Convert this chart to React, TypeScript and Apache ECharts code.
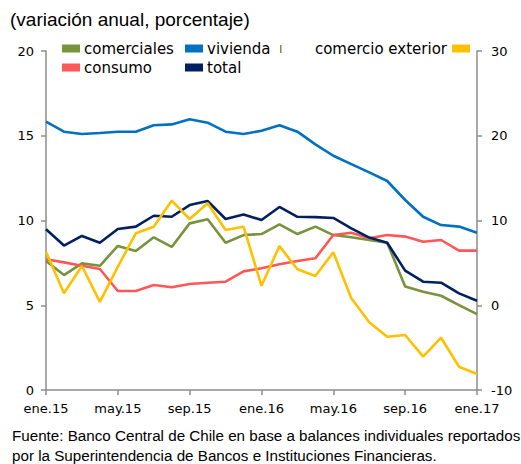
import React, { useEffect, useRef } from "react";
import * as echarts from "echarts";

const months: string[] = [
  "ene.15", "feb.15", "mar.15", "abr.15", "may.15", "jun.15", "jul.15", "ago.15", "sep.15", "oct.15", "nov.15", "dic.15",
  "ene.16", "feb.16", "mar.16", "abr.16", "may.16", "jun.16", "jul.16", "ago.16", "sep.16", "oct.16", "nov.16", "dic.16",
  "ene.17",
];

const comerciales: number[] = [7.61, 6.78, 7.47, 7.33, 8.5, 8.2, 9.01, 8.44, 9.83, 10.07, 8.69, 9.14, 9.2, 9.77, 9.2, 9.64, 9.14, 9.01, 8.85, 8.69, 6.1, 5.8, 5.56, 5.01, 4.48];
const vivienda: number[] = [15.83, 15.24, 15.1, 15.16, 15.24, 15.24, 15.62, 15.67, 15.97, 15.77, 15.24, 15.1, 15.3, 15.62, 15.24, 14.49, 13.82, 13.33, 12.84, 12.33, 11.21, 10.22, 9.73, 9.64, 9.28];
const consumo: number[] = [7.71, 7.53, 7.33, 7.14, 5.84, 5.84, 6.19, 6.06, 6.25, 6.33, 6.39, 7.0, 7.18, 7.42, 7.61, 7.77, 9.14, 9.28, 8.95, 9.14, 9.05, 8.75, 8.85, 8.22, 8.22];
const total: number[] = [9.48, 8.52, 9.09, 8.69, 9.5, 9.64, 10.28, 10.22, 10.91, 11.15, 10.09, 10.36, 10.03, 10.8, 10.22, 10.2, 10.15, 9.54, 8.99, 8.69, 7.04, 6.39, 6.33, 5.7, 5.27];
const comercioExterior: number[] = [6.32, 1.41, 4.63, 0.4, 4.55, 8.49, 9.27, 12.34, 10.18, 12.03, 8.88, 9.27, 2.3, 6.99, 4.24, 3.45, 6.25, 0.82, -2.01, -3.71, -3.51, -6.07, -3.83, -7.25, -8.11];

const leftTicks = { min: 0, max: 20, interval: 5 };
const rightTicks = { min: -10, max: 30, interval: 10 };

const titleText = "(variación anual, porcentaje)";
const footer1 = "Fuente: Banco Central de Chile en base a balances individuales reportados";
const footer2 = "por la Superintendencia de Bancos e Instituciones Financieras.";

const COLORS = {
  comerciales: "#77933C",
  vivienda: "#0070C0",
  consumo: "#FF5757",
  total: "#002060",
  comercio: "#FFC000",
};

const AXIS_COLOR = "#8c8c8c";
const LABEL_FONT = "DejaVu Sans";

export default function App() {
  const ref = useRef<HTMLDivElement>(null);

  useEffect(() => {
    if (!ref.current) return;
    const chart = echarts.init(ref.current, undefined, { renderer: "svg" });

    const legendBase = {
      itemWidth: 18,
      itemHeight: 8,
      itemGap: 6,
      icon: "rect",
      selectedMode: false as const,
      padding: 0,
      textStyle: { fontFamily: LABEL_FONT, fontSize: 15, color: "#000", padding: [0, 0, 0, -1] },
    };

    const lineSeries = (name: string, data: number[], color: string, yAxisIndex = 0) => ({
      name,
      type: "line" as const,
      data,
      yAxisIndex,
      symbol: "none",
      smooth: false,
      lineStyle: { color, width: 2.6 },
      itemStyle: { color },
    });

    chart.setOption({
      animation: false,
      backgroundColor: "#fff",
      grid: { left: 46, right: 44, top: 51, bottom: 74, containLabel: false },
      legend: [
        { ...legendBase, data: ["comerciales"], left: 62, top: 41 },
        { ...legendBase, data: ["vivienda"], left: 185, top: 41 },
        { ...legendBase, data: ["consumo"], left: 62, top: 60 },
        { ...legendBase, data: ["total"], left: 185, top: 60 },
        { ...legendBase, data: ["comercio exterior"], right: 51, top: 41, align: "right" },
      ],
      xAxis: {
        type: "category",
        data: months,
        boundaryGap: false,
        axisLine: { show: true, onZero: false, lineStyle: { color: AXIS_COLOR, width: 1.5 } },
        axisTick: { show: true, interval: 3, length: 5, lineStyle: { color: AXIS_COLOR, width: 1.5 } },
        axisLabel: { interval: 3, margin: 12, fontFamily: LABEL_FONT, fontSize: 13, color: "#000" },
        splitLine: { show: false },
      },
      yAxis: [
        {
          type: "value",
          position: "left",
          ...leftTicks,
          axisLine: { show: true, lineStyle: { color: AXIS_COLOR, width: 1.5 } },
          axisTick: { show: true, length: 5, lineStyle: { color: AXIS_COLOR, width: 1.5 } },
          axisLabel: { margin: 12, fontFamily: LABEL_FONT, fontSize: 13, color: "#000" },
          splitLine: { show: false },
        },
        {
          type: "value",
          position: "right",
          ...rightTicks,
          axisLine: { show: true, lineStyle: { color: AXIS_COLOR, width: 1.5 } },
          axisTick: { show: true, length: 5, lineStyle: { color: AXIS_COLOR, width: 1.5 } },
          axisLabel: { margin: 14, fontFamily: LABEL_FONT, fontSize: 13, color: "#000" },
          splitLine: { show: false },
        },
      ],
      series: [
        lineSeries("comerciales", comerciales, COLORS.comerciales),
        lineSeries("vivienda", vivienda, COLORS.vivienda),
        lineSeries("consumo", consumo, COLORS.consumo),
        lineSeries("total", total, COLORS.total),
        lineSeries("comercio exterior", comercioExterior, COLORS.comercio, 1),
      ],
      graphic: [
        {
          type: "text",
          left: 10,
          top: 10,
          style: { text: titleText, fontFamily: "Liberation Sans", fontSize: 19, fill: "#000" },
        },
        {
          type: "rect",
          shape: { x: 280, y: 45, width: 1.5, height: 8 },
          style: { fill: COLORS.comerciales },
        },
        {
          type: "text",
          x: 12,
          y: 435,
          style: { text: footer1, fontFamily: "Liberation Sans", fontSize: 15.2, lineHeight: 16, fill: "#000", verticalAlign: "middle" },
        },
        {
          type: "text",
          x: 12,
          y: 455,
          style: { text: footer2, fontFamily: "Liberation Sans", fontSize: 15.2, lineHeight: 16, fill: "#000", verticalAlign: "middle" },
        },
      ],
    });

    return () => chart.dispose();
  }, []);

  return <div ref={ref} style={{ width: 521, height: 464, position: "absolute", left: 0, top: 0 }} />;
}
